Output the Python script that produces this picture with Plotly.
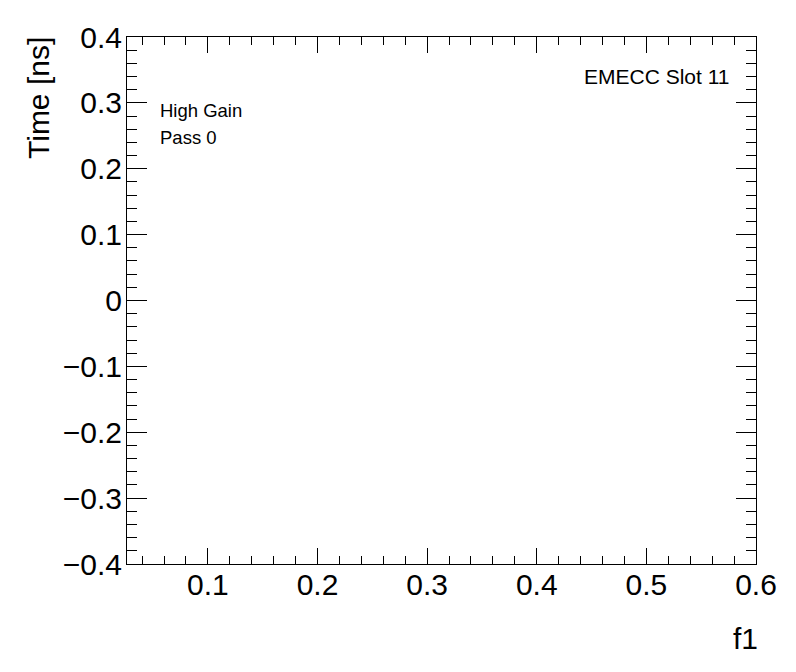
import plotly.graph_objects as go

# Data (the reference histogram/graph is empty)
x_values = []
y_values = []
x_range = [0.0262, 0.6]
y_range = [-0.4, 0.4]
y_tickvals = [-0.4, -0.3, -0.2, -0.1, 0, 0.1, 0.2, 0.3, 0.4]
y_ticktext = ["\u22120.4", "\u22120.3", "\u22120.2", "\u22120.1", "0", "0.1", "0.2", "0.3", "0.4"]
x_title = "f1"
y_title = "Time [ns]"
labels = ["High Gain", "Pass 0"]
slot_label = "EMECC Slot 11"

FONT = "Liberation Sans, Arial, Helvetica, sans-serif"

fig = go.Figure()
fig.add_trace(go.Scatter(x=x_values, y=y_values, mode="markers", showlegend=False))

axis_common = dict(
    showgrid=False, zeroline=False, showline=True, linecolor="black", linewidth=1,
    mirror="ticks", ticks="inside", tickcolor="black", tickwidth=1,
    tickfont=dict(family=FONT, size=30, color="black"),
)

fig.update_xaxes(range=x_range, ticklen=16, tick0=0, dtick=0.1, tickformat=".1f",
                 ticklabelstandoff=-6,
                 minor=dict(dtick=0.02, ticks="inside", ticklen=8, tickcolor="black", tickwidth=1, showgrid=False),
                 **axis_common)
fig.update_yaxes(range=y_range, ticklen=20, tickvals=y_tickvals, ticktext=y_ticktext,
                 ticklabelstandoff=-2,
                 minor=dict(dtick=0.02, tick0=0, ticks="inside", ticklen=10, tickcolor="black", tickwidth=1, showgrid=False),
                 **axis_common)

annotations = [
    dict(text=y_title, textangle=-90, xref="paper", yref="paper", x=0, y=1,
         xanchor="center", yanchor="top", xshift=-89, yshift=2, showarrow=False,
         font=dict(family=FONT, size=30, color="black")),
    dict(text=x_title, xref="paper", yref="paper", x=1, y=0, xanchor="right", yanchor="top",
         yshift=-56, xshift=4, showarrow=False, font=dict(family=FONT, size=30, color="black")),
    dict(text=slot_label, xref="paper", yref="paper", x=1, y=1, xanchor="right", yanchor="top",
         xshift=-24, yshift=-26, showarrow=False, font=dict(family=FONT, size=21, color="black")),
]
for i, t in enumerate(labels):
    annotations.append(dict(text=t, xref="paper", yref="paper", x=0, y=1, xanchor="left", yanchor="top",
                            xshift=31, yshift=-61 - 27 * i, showarrow=False,
                            font=dict(family=FONT, size=18.5, color="black")))

fig.update_layout(
    width=788, height=664,
    margin=dict(l=119, r=40, t=26, b=108),
    paper_bgcolor="white", plot_bgcolor="white",
    annotations=annotations,
)

fig.write_html("out.html")
